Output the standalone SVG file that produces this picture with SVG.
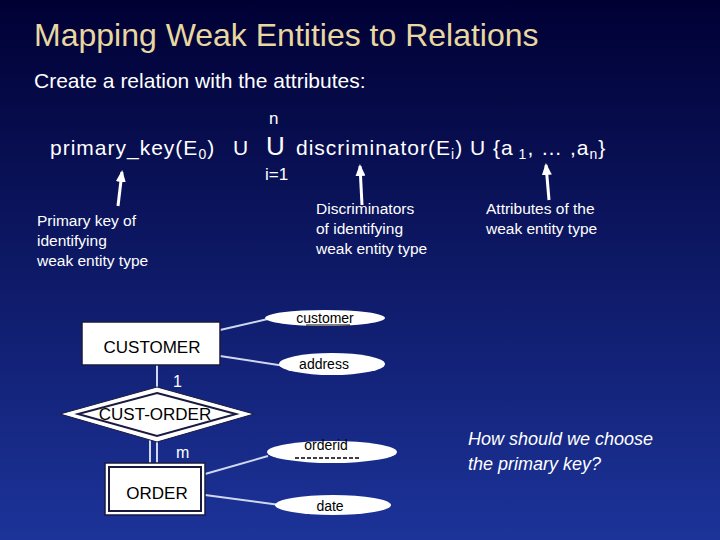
<svg xmlns="http://www.w3.org/2000/svg" width="720" height="540" viewBox="0 0 720 540">
<defs>
<linearGradient id="bg" x1="0" y1="0" x2="0" y2="1">
<stop offset="0" stop-color="#000034"/>
<stop offset="1" stop-color="#1c3399"/>
</linearGradient>
<marker id="ah" markerWidth="12" markerHeight="10" refX="10" refY="5" orient="auto" markerUnits="userSpaceOnUse" viewBox="0 0 12 10">
<path d="M0,0 L12,5 L0,10 Z" fill="#fff"/>
</marker>
</defs>
<style>
text{font-family:"Liberation Sans",Arial,sans-serif;}
.w{fill:#fff;}
.k{fill:#000;}
.lbl{fill:#fff;font-size:15.5px;}
.shape{fill:#fff;stroke:#1a1a40;stroke-width:1.5;}
.ln{stroke:#d0d8f0;stroke-width:2;fill:none;}
.arr{stroke:#fff;stroke-width:3;fill:none;}
</style>
<rect width="720" height="540" fill="url(#bg)"/>
<text x="34" y="46" font-size="32" fill="#e8d8a0">Mapping Weak Entities to Relations</text>
<text x="34" y="88" font-size="21" class="w">Create a relation with the attributes:</text>
<g id="formula" class="w" font-size="21">
<text x="269" y="124" font-size="17">n</text>
<text x="50" y="155" letter-spacing="1">primary_key(E<tspan font-size="14" dy="4">0</tspan><tspan dy="-4">)</tspan></text>
<text x="233" y="155">U</text>
<text x="266" y="155" font-size="26">U</text>
<text x="296" y="155" letter-spacing="1">discriminator(E<tspan font-size="14" dy="4">i</tspan><tspan dy="-4">) U {a</tspan><tspan font-size="14" dy="4"> 1</tspan><tspan dy="-4">, … ,a</tspan><tspan font-size="14" dy="4">n</tspan><tspan dy="-4">}</tspan></text>
<text x="265" y="180" font-size="17">i=1</text>
</g>
<g id="arrows">
<line class="arr" x1="118" y1="206" x2="122" y2="172" marker-end="url(#ah)"/>
<line class="arr" x1="362" y1="205" x2="360" y2="166" marker-end="url(#ah)"/>
<line class="arr" x1="549" y1="200" x2="546" y2="165" marker-end="url(#ah)"/>
</g>
<g class="lbl">
<text x="37" y="226">Primary key of</text>
<text x="37" y="246">identifying</text>
<text x="37" y="266">weak entity type</text>
<text x="316" y="214">Discriminators</text>
<text x="316" y="234">of identifying</text>
<text x="316" y="254">weak entity type</text>
<text x="486" y="214">Attributes of the</text>
<text x="486" y="234">weak entity type</text>
</g>
<g id="connectors">
<line class="ln" x1="220" y1="330" x2="272" y2="318"/>
<line class="ln" x1="220" y1="356" x2="285" y2="366"/>
<line class="ln" x1="157" y1="365" x2="157" y2="389"/>
<line class="ln" x1="150" y1="440" x2="150" y2="463"/>
<line class="ln" x1="157" y1="440" x2="157" y2="463"/>
<line class="ln" x1="205" y1="474" x2="268" y2="456"/>
<line class="ln" x1="205" y1="495" x2="280" y2="505"/>
</g>
<g id="customer-entity">
<rect class="shape" x="82" y="322" width="138" height="43"/>
<text x="152" y="353" font-size="17" class="k" text-anchor="middle">CUSTOMER</text>
</g>
<text x="173" y="387" font-size="16" class="w">1</text>
<g id="cust-order">
<polygon points="157,387 254,414 157,442 60,414" fill="#fff" stroke="#1a1a40" stroke-width="1"/>
<polygon points="157,393 236,414 157,436 78,414" fill="none" stroke="#1a1a40" stroke-width="2"/>
<text x="155" y="420" font-size="17" class="k" text-anchor="middle">CUST-ORDER</text>
</g>
<text x="176" y="458" font-size="16" class="w">m</text>
<g id="order-entity">
<rect class="shape" x="105" y="463" width="100" height="52"/>
<rect x="109" y="467" width="92" height="44" fill="none" stroke="#1a1a40" stroke-width="2"/>
<text x="157" y="499" font-size="17" class="k" text-anchor="middle">ORDER</text>
</g>
<g id="attr-customer">
<ellipse cx="325" cy="318" rx="60" ry="8" fill="#fff"/>
<text x="325" y="323" font-size="14" class="k" text-anchor="middle">customer</text>
<line x1="306" y1="325" x2="350" y2="325" stroke="#000" stroke-width="1"/>
</g>
<g id="attr-address">
<ellipse cx="332" cy="364" rx="53" ry="11" fill="#fff"/>
<text x="324" y="369" font-size="14" class="k" text-anchor="middle">address</text>
</g>
<g id="attr-orderid">
<ellipse cx="332" cy="452" rx="65" ry="11" fill="#fff"/>
<text x="326" y="450" font-size="14" class="k" text-anchor="middle">orderid</text>
<line x1="295" y1="458" x2="360" y2="458" stroke="#000" stroke-width="1.5" stroke-dasharray="4,2"/>
</g>
<g id="attr-date">
<ellipse cx="333" cy="505" rx="58" ry="10" fill="#fff"/>
<text x="330" y="511" font-size="14" class="k" text-anchor="middle">date</text>
</g>
<g class="w" font-size="18" font-style="italic">
<text x="468" y="445">How should we choose</text>
<text x="468" y="470">the primary key?</text>
</g>
</svg>
